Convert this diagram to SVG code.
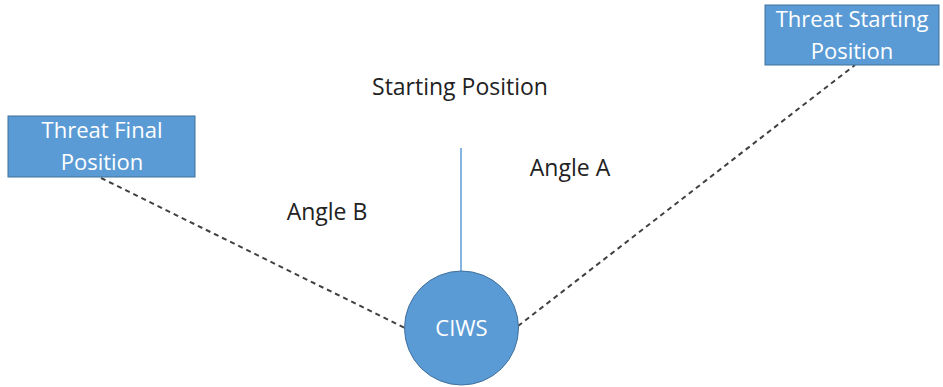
<svg xmlns="http://www.w3.org/2000/svg" width="943" height="387" viewBox="0 0 943 387">
<style>
.box{fill:#5b9bd5;stroke:#41719c;stroke-width:1}
.wt{fill:#fff;font-family:"Open Sans","Liberation Sans",sans-serif;font-size:22px;text-anchor:middle}
.bt{fill:#222;font-family:"Open Sans","Liberation Sans",sans-serif;font-size:23px;text-anchor:middle}
.dash{stroke:#404040;stroke-width:2;stroke-dasharray:5 4;fill:none}
</style>
<rect width="943" height="387" fill="#fff"/>
<g id="connectors">
<line x1="461" y1="148" x2="461" y2="271" stroke="#5b9bd5" stroke-width="1.5"/>
<line class="dash" x1="101" y1="178" x2="405" y2="328"/>
<line class="dash" x1="518" y1="326" x2="855" y2="65"/>
</g>
<g id="threat-start">
<rect class="box" x="765" y="5" width="174" height="60"/>
<text class="wt" x="852" y="27">Threat Starting</text>
<text class="wt" x="852" y="59">Position</text>
</g>
<g id="threat-final">
<rect class="box" x="8" y="116" width="187" height="61"/>
<text class="wt" x="102" y="138">Threat Final</text>
<text class="wt" x="102" y="170">Position</text>
</g>
<g id="ciws">
<circle cx="461.5" cy="328" r="57" fill="#5b9bd5" stroke="#41719c" stroke-width="1"/>
<text class="wt" x="461.5" y="336" font-size="24">CIWS</text>
</g>
<g id="labels">
<text class="bt" x="460" y="95">Starting Position</text>
<text class="bt" x="570" y="176">Angle A</text>
<text class="bt" x="327" y="220">Angle B</text>
</g>
</svg>
